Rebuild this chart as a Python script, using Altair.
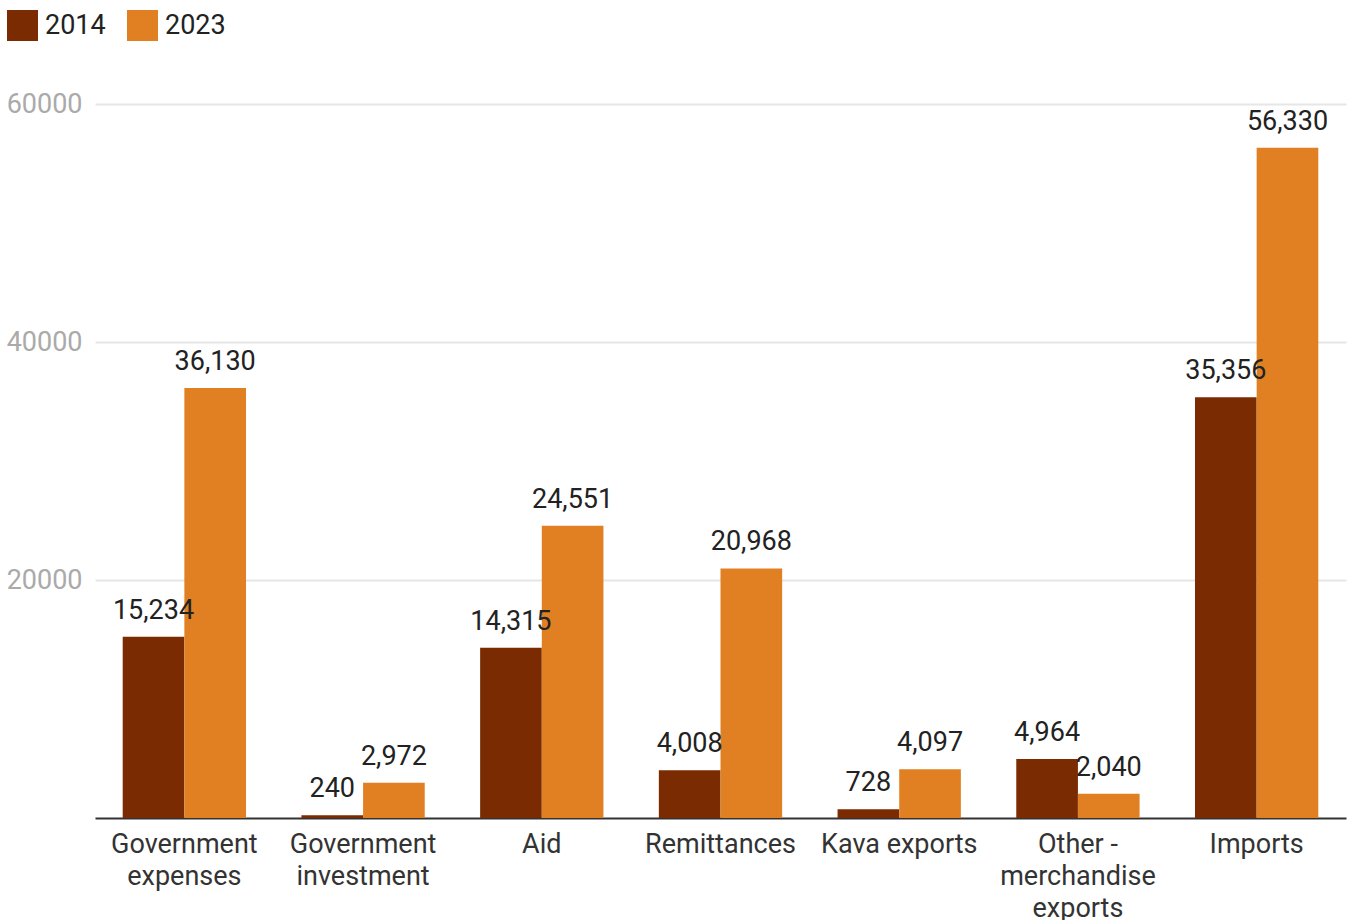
import altair as alt
import pandas as pd

categories = ["Government expenses", "Government investment", "Aid", "Remittances",
              "Kava exports", "Other - merchandise exports", "Imports"]
label_lines = [["Government", "expenses"], ["Government", "investment"], ["Aid"],
               ["Remittances"], ["Kava exports"], ["Other -", "merchandise", "exports"],
               ["Imports"]]
years = ["2014", "2023"]
values_2014 = [15234, 240, 14315, 4008, 728, 4964, 35356]
values_2023 = [36130, 2972, 24551, 20968, 4097, 2040, 56330]
colors = ["#7b2b02", "#e08022"]
y_ticks = [20000, 40000, 60000]

rows = []
for c, a, b in zip(categories, values_2014, values_2023):
    rows.append({"category": c, "year": "2014", "value": a})
    rows.append({"category": c, "year": "2023", "value": b})
df = pd.DataFrame(rows)

expr = "''"
for c, lines in reversed(list(zip(categories, label_lines))):
    arr = "[" + ",".join("'" + l + "'" for l in lines) + "]"
    expr = f"datum.value == '{c}' ? {arr} : ({expr})"

FONT = "Roboto"
FS = 27

x = alt.X("category:N", sort=categories, title=None,
          scale=alt.Scale(paddingInner=0.31, paddingOuter=0.155),
          axis=alt.Axis(labelAngle=0, labelExpr=expr, labelFontSize=FS, labelColor="#333333",
                        labelFont=FONT, labelLineHeight=32, labelPadding=13,
                        ticks=False, domainColor="#333333", domainWidth=2,
                        labelBaseline="top", labelLimit=300))
xo = alt.XOffset("year:N", sort=years, scale=alt.Scale(paddingInner=0, paddingOuter=0))
y = alt.Y("value:Q", title=None,
          scale=alt.Scale(domain=[0, 60000], nice=False),
          axis=alt.Axis(values=y_ticks, labelFontSize=FS, labelColor="#aaaaaa", labelFont=FONT,
                        labelPadding=13, ticks=False, domain=False, gridColor="#e6e6e6",
                        gridWidth=2, format="d"))

bars = alt.Chart(df).mark_bar().encode(
    x=x, xOffset=xo, y=y,
    color=alt.Color("year:N", sort=years, scale=alt.Scale(domain=years, range=colors),
                    legend=alt.Legend(orient="none", legendX=-88, legendY=-94, direction="horizontal",
                                      title=None, symbolType="square", symbolSize=961,
                                      symbolStrokeWidth=0, labelFontSize=FS, labelFont=FONT,
                                      labelColor="#222222", columnPadding=21, labelOffset=7)),
)

text = alt.Chart(df).mark_text(baseline="alphabetic", dy=-18, fontSize=FS, font=FONT,
                               color="#222222").encode(
    x=alt.X("category:N", sort=categories), xOffset=xo, y="value:Q",
    text=alt.Text("value:Q", format=","),
)

chart = (bars + text).properties(
    width=1251, height=714,
    padding={"left": 95, "top": 104, "right": 5, "bottom": 102},
    autosize=alt.AutoSizeParams(type="none"),
).configure_view(stroke=None).configure_axisY(grid=True).configure_axisX(grid=False)

chart.save("out.html", embed_options={"renderer": "svg", "actions": False})
